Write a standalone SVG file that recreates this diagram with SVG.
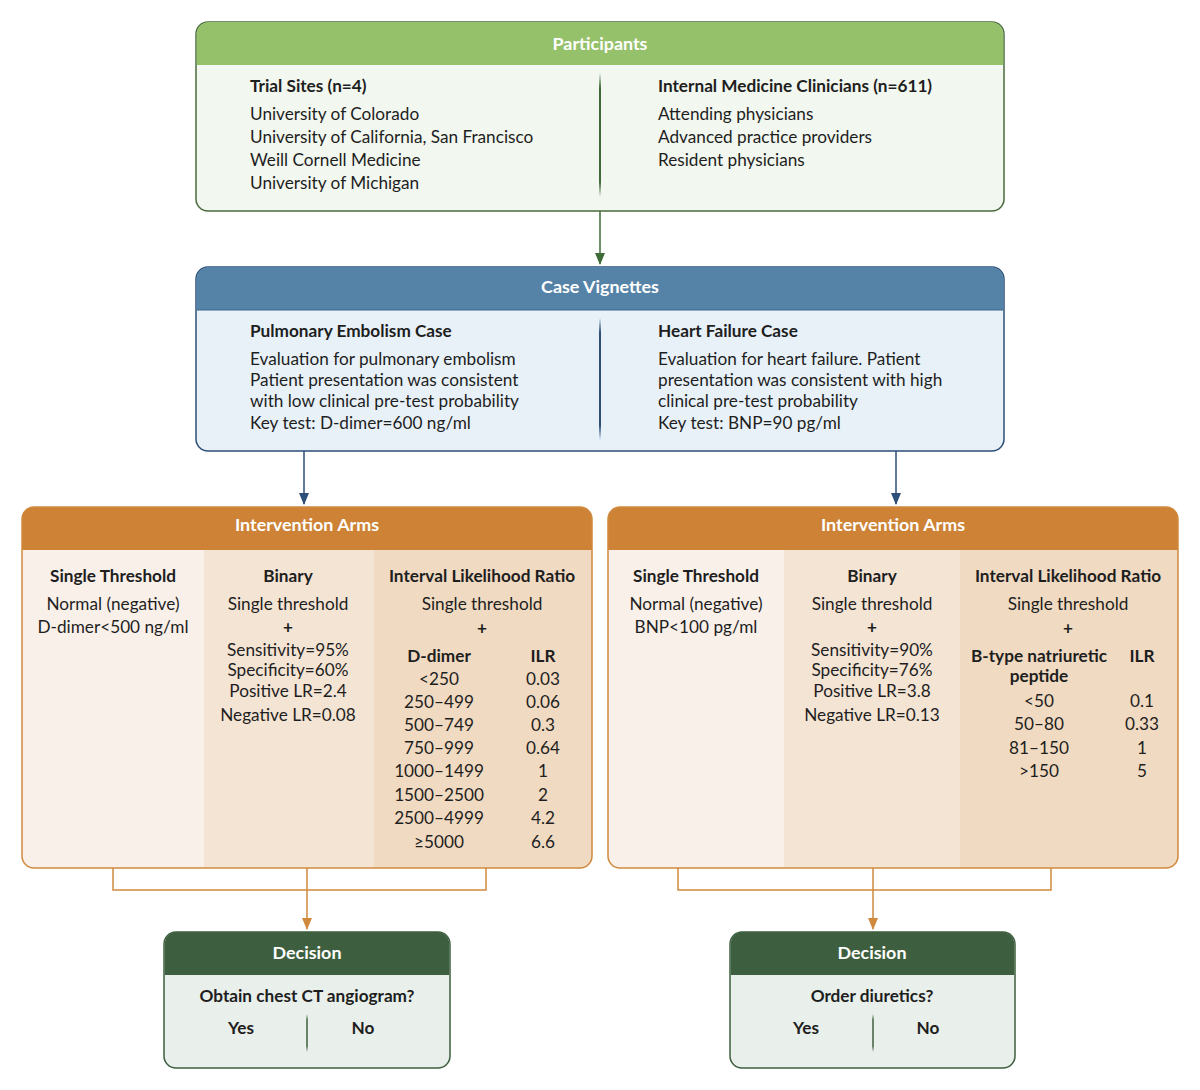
<svg xmlns="http://www.w3.org/2000/svg" width="1200" height="1090" viewBox="0 0 1200 1090">
<style>
text{font-family:"Lato","Open Sans","Liberation Sans",sans-serif;font-size:17.2px;fill:#1e1e1e}
.h{fill:#fff;font-weight:bold;font-size:17.9px;text-anchor:middle}
.b{font-weight:bold}
.c{text-anchor:middle}
</style>
<defs>
<linearGradient id="gG" x1="0" y1="0" x2="0" y2="1"><stop offset="0" stop-color="#3f6b3a" stop-opacity="0"/><stop offset="0.12" stop-color="#3f6b3a"/><stop offset="0.88" stop-color="#3f6b3a"/><stop offset="1" stop-color="#3f6b3a" stop-opacity="0"/></linearGradient>
<linearGradient id="gB" x1="0" y1="0" x2="0" y2="1"><stop offset="0" stop-color="#2d4f78" stop-opacity="0"/><stop offset="0.12" stop-color="#2d4f78"/><stop offset="0.88" stop-color="#2d4f78"/><stop offset="1" stop-color="#2d4f78" stop-opacity="0"/></linearGradient>
<linearGradient id="gD" x1="0" y1="0" x2="0" y2="1"><stop offset="0" stop-color="#3e5f3f" stop-opacity="0"/><stop offset="0.15" stop-color="#3e5f3f"/><stop offset="0.85" stop-color="#3e5f3f"/><stop offset="1" stop-color="#3e5f3f" stop-opacity="0"/></linearGradient>
<marker id="aG" markerWidth="10" markerHeight="12" refX="5" refY="11" markerUnits="userSpaceOnUse" viewBox="0 0 10 12"><path d="M0,0 L10,0 L5,12 Z" fill="#3f6b3a"/></marker>
<marker id="aB" markerWidth="10" markerHeight="12" refX="5" refY="11" markerUnits="userSpaceOnUse" viewBox="0 0 10 12"><path d="M0,0 L10,0 L5,12 Z" fill="#2d4f78"/></marker>
<marker id="aO" markerWidth="10" markerHeight="12" refX="5" refY="11" markerUnits="userSpaceOnUse" viewBox="0 0 10 12"><path d="M0,0 L10,0 L5,12 Z" fill="#d08a3e"/></marker>
<clipPath id="cpL"><rect x="22" y="507" width="570" height="361" rx="12"/></clipPath>
<clipPath id="cpR"><rect x="608" y="507" width="570" height="361" rx="12"/></clipPath>
</defs>
<rect width="1200" height="1090" fill="#fff"/>

<g id="connectors" fill="none" stroke-width="1.5">
<line x1="600" y1="211" x2="600" y2="264" stroke="#3f6b3a" marker-end="url(#aG)"/>
<line x1="304" y1="451" x2="304" y2="504" stroke="#2d4f78" marker-end="url(#aB)"/>
<line x1="896" y1="451" x2="896" y2="504" stroke="#2d4f78" marker-end="url(#aB)"/>
<path d="M113,868 V890 H486 V868" stroke="#d08a3e"/>
<line x1="307" y1="868" x2="307" y2="929" stroke="#d08a3e" marker-end="url(#aO)"/>
<path d="M678,868 V890 H1051 V868" stroke="#d08a3e"/>
<line x1="873" y1="868" x2="873" y2="929" stroke="#d08a3e" marker-end="url(#aO)"/>
</g>

<g id="participants">
<rect x="196" y="22" width="808" height="189" rx="12" fill="#f2f7ef" stroke="#4a6b3e" stroke-width="1.5"/>
<path d="M196.75,65 V34 a12,12 0 0 1 12,-12 H991.25 a12,12 0 0 1 12,12 V65 Z" fill="#95c16b"/>
<text class="h" x="600" y="50">Participants</text>
<rect x="599" y="73" width="2" height="124" fill="url(#gG)"/>
<text class="b" x="250" y="92">Trial Sites (n=4)</text>
<text x="250" y="120">University of Colorado</text>
<text x="250" y="143">University of California, San Francisco</text>
<text x="250" y="166">Weill Cornell Medicine</text>
<text x="250" y="189">University of Michigan</text>
<text class="b" x="658" y="92">Internal Medicine Clinicians (n=611)</text>
<text x="658" y="120">Attending physicians</text>
<text x="658" y="143">Advanced practice providers</text>
<text x="658" y="166">Resident physicians</text>
</g>

<g id="case-vignettes">
<rect x="196" y="267" width="808" height="184" rx="12" fill="#e8f1f8" stroke="#2d4f78" stroke-width="1.5"/>
<path d="M196.75,310 V279 a12,12 0 0 1 12,-12 H991.25 a12,12 0 0 1 12,12 V310 Z" fill="#5583a7"/>
<line x1="196.75" y1="310" x2="1003.25" y2="310" stroke="#3c6690" stroke-width="1"/>
<text class="h" x="600" y="293">Case Vignettes</text>
<rect x="599" y="318" width="2" height="122" fill="url(#gB)"/>
<text class="b" x="250" y="337">Pulmonary Embolism Case</text>
<text x="250" y="365">Evaluation for pulmonary embolism</text>
<text x="250" y="386">Patient presentation was consistent</text>
<text x="250" y="407">with low clinical pre-test probability</text>
<text x="250" y="429">Key test: D-dimer=600 ng/ml</text>
<text class="b" x="658" y="337">Heart Failure Case</text>
<text x="658" y="365">Evaluation for heart failure. Patient</text>
<text x="658" y="386">presentation was consistent with high</text>
<text x="658" y="407">clinical pre-test probability</text>
<text x="658" y="429">Key test: BNP=90 pg/ml</text>
</g>

<g id="intervention-arms-pe">
<g clip-path="url(#cpL)">
<rect x="22" y="507" width="182" height="361" fill="#f9f0e9"/>
<rect x="204" y="507" width="170" height="361" fill="#f4e4d4"/>
<rect x="374" y="507" width="218" height="361" fill="#f0dac1"/>
<rect x="22" y="507" width="570" height="43" fill="#cd8236"/>
</g>
<rect x="22" y="507" width="570" height="361" rx="12" fill="none" stroke="#d08a3e" stroke-width="1.5"/>
<text class="h" x="307" y="531">Intervention Arms</text>
<text class="b c" x="113" y="582">Single Threshold</text>
<text class="c" x="113" y="610">Normal (negative)</text>
<text class="c" x="113" y="633">D-dimer&lt;500 ng/ml</text>
<text class="b c" x="288" y="582">Binary</text>
<text class="c" x="288" y="610">Single threshold</text>
<text class="b c" x="288" y="633">+</text>
<text class="c" x="288" y="656">Sensitivity=95%</text>
<text class="c" x="288" y="676">Specificity=60%</text>
<text class="c" x="288" y="697">Positive LR=2.4</text>
<text class="c" x="288" y="721">Negative LR=0.08</text>
<text class="b c" x="482" y="582">Interval Likelihood Ratio</text>
<text class="c" x="482" y="610">Single threshold</text>
<text class="b c" x="482" y="634">+</text>
<text class="b c" x="439" y="662">D-dimer</text>
<text class="b c" x="543" y="662">ILR</text>
<text class="c" x="439" y="685">&lt;250</text><text class="c" x="543" y="685">0.03</text>
<text class="c" x="439" y="708">250–499</text><text class="c" x="543" y="708">0.06</text>
<text class="c" x="439" y="731">500–749</text><text class="c" x="543" y="731">0.3</text>
<text class="c" x="439" y="754">750–999</text><text class="c" x="543" y="754">0.64</text>
<text class="c" x="439" y="777">1000–1499</text><text class="c" x="543" y="777">1</text>
<text class="c" x="439" y="801">1500–2500</text><text class="c" x="543" y="801">2</text>
<text class="c" x="439" y="824">2500–4999</text><text class="c" x="543" y="824">4.2</text>
<text class="c" x="439" y="848">≥5000</text><text class="c" x="543" y="848">6.6</text>
</g>

<g id="intervention-arms-hf">
<g clip-path="url(#cpR)">
<rect x="608" y="507" width="176" height="361" fill="#f9f0e9"/>
<rect x="784" y="507" width="176" height="361" fill="#f4e4d4"/>
<rect x="960" y="507" width="218" height="361" fill="#f0dac1"/>
<rect x="608" y="507" width="570" height="43" fill="#cd8236"/>
</g>
<rect x="608" y="507" width="570" height="361" rx="12" fill="none" stroke="#d08a3e" stroke-width="1.5"/>
<text class="h" x="893" y="531">Intervention Arms</text>
<text class="b c" x="696" y="582">Single Threshold</text>
<text class="c" x="696" y="610">Normal (negative)</text>
<text class="c" x="696" y="633">BNP&lt;100 pg/ml</text>
<text class="b c" x="872" y="582">Binary</text>
<text class="c" x="872" y="610">Single threshold</text>
<text class="b c" x="872" y="633">+</text>
<text class="c" x="872" y="656">Sensitivity=90%</text>
<text class="c" x="872" y="676">Specificity=76%</text>
<text class="c" x="872" y="697">Positive LR=3.8</text>
<text class="c" x="872" y="721">Negative LR=0.13</text>
<text class="b c" x="1068" y="582">Interval Likelihood Ratio</text>
<text class="c" x="1068" y="610">Single threshold</text>
<text class="b c" x="1068" y="634">+</text>
<text class="b c" x="1039" y="662">B-type natriuretic</text>
<text class="b c" x="1039" y="682">peptide</text>
<text class="b c" x="1142" y="662">ILR</text>
<text class="c" x="1039" y="707">&lt;50</text><text class="c" x="1142" y="707">0.1</text>
<text class="c" x="1039" y="730">50–80</text><text class="c" x="1142" y="730">0.33</text>
<text class="c" x="1039" y="754">81–150</text><text class="c" x="1142" y="754">1</text>
<text class="c" x="1039" y="777">&gt;150</text><text class="c" x="1142" y="777">5</text>
</g>

<g id="decision-pe">
<rect x="164" y="932" width="286" height="136" rx="12" fill="#e9efea" stroke="#3e5f3f" stroke-width="1.5"/>
<path d="M164.75,975 V944 a12,12 0 0 1 12,-12 H437.25 a12,12 0 0 1 12,12 V975 Z" fill="#3e5f3f"/>
<text class="h" x="307" y="959">Decision</text>
<text class="b c" x="307" y="1002">Obtain chest CT angiogram?</text>
<rect x="306.25" y="1014" width="1.5" height="38" fill="url(#gD)"/>
<text class="b c" x="241" y="1034">Yes</text>
<text class="b c" x="363" y="1034">No</text>
</g>

<g id="decision-hf">
<rect x="730" y="932" width="285" height="136" rx="12" fill="#e9efea" stroke="#3e5f3f" stroke-width="1.5"/>
<path d="M730.75,975 V944 a12,12 0 0 1 12,-12 H1002.25 a12,12 0 0 1 12,12 V975 Z" fill="#3e5f3f"/>
<text class="h" x="872" y="959">Decision</text>
<text class="b c" x="872" y="1002">Order diuretics?</text>
<rect x="872.25" y="1014" width="1.5" height="38" fill="url(#gD)"/>
<text class="b c" x="806" y="1034">Yes</text>
<text class="b c" x="928" y="1034">No</text>
</g>
</svg>
